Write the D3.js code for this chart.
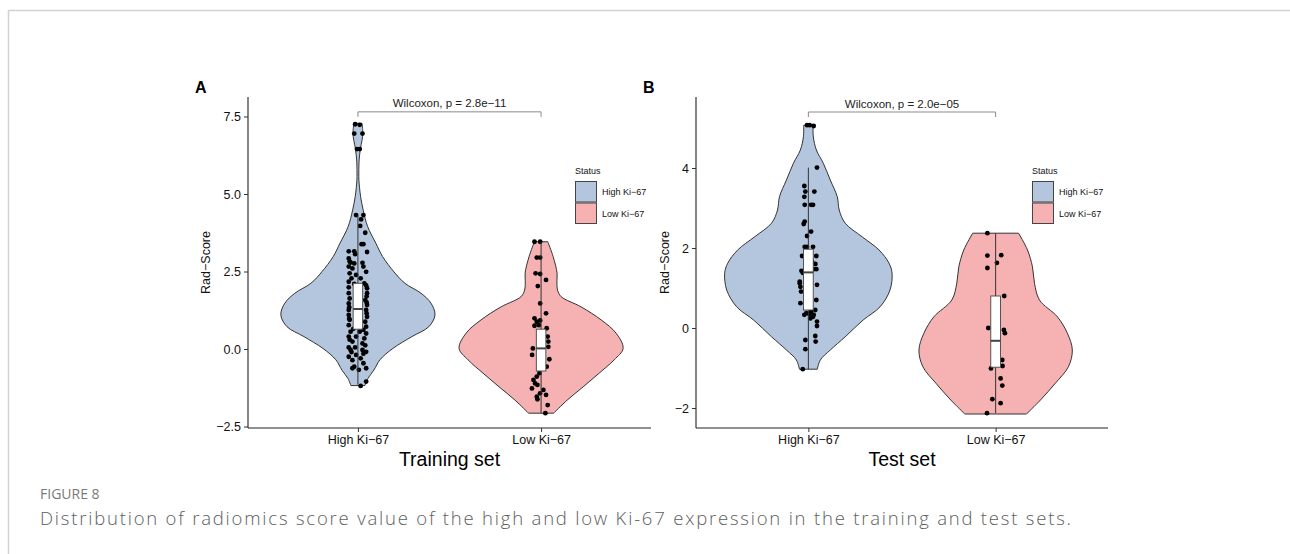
<!DOCTYPE html>
<html>
<head>
<meta charset="utf-8">
<script src="https://cdn.jsdelivr.net/npm/d3@7"></script>
<style>
  body { margin: 0; background: #fff; }
  svg { display: block; }
</style>
</head>
<body>
<svg id="fig" width="1290" height="554"></svg>
<script>
// ---- data -------------------------------------------------------------
const groups = ["High Ki−67", "Low Ki−67"];
const panelTitles = ["Training set", "Test set"];
const panelLetters = ["A", "B"];
const pLabels = ["Wilcoxon, p = 2.8e−11", "Wilcoxon, p = 2.0e−05"];
const trainTicks = [-2.5, 0, 2.5, 5, 7.5];
const testTicks = [-2, 0, 2, 4];

// Rad-Score per patient: [score, jitter in -1..1]
const trainHighPoints = [
  [7.25,-0.3],[7.23,0.2],[6.95,-0.4],[6.95,0.5],[6.45,-0.1],[6.45,0.2],
  [4.32,-0.2],[4.32,0.6],[4.18,0.35],[3.97,0.25],[3.75,0.8],[3.38,0.4],[3.38,0.6],
  [3.15,-1.0],[3.13,1.0],[3.15,-0.4],[3.06,-0.3],[2.92,-1.0],[2.79,-0.8],
  [2.82,-0.9],[2.76,-0.4],[2.78,0.5],[2.66,-1.0],[2.60,-0.6],[2.66,0.6],[2.44,-0.9],
  [2.39,-0.2],[2.49,0.9],[2.28,-0.7],[2.28,0.3],[2.17,-1.0],[2.12,0.7],[2.10,-0.4],
  [1.99,-1.0],[1.96,1.0],[1.80,-1.0],[1.80,1.0],[1.63,-0.9],[1.58,0.8],[1.47,-1.0],
  [1.42,1.0],[1.26,-1.0],[1.26,0.9],[1.10,-1.0],[1.04,1.0],[0.94,-0.9],[0.88,0.8],
  [0.77,-1.0],[0.72,0.9],[1.70,0.95],[1.35,-0.95],[1.15,0.95],[0.98,-0.95],[2.05,0.9],[1.50,0.95],
  [0.56,-0.8],[0.56,0.2],[0.50,0.9],[0.40,-1.0],[0.40,-0.2],[0.34,0.7],[0.24,-0.6],
  [0.18,0.5],[0.05,-1.0],[0.05,-0.3],[-0.03,-0.8],[-0.03,0.5],[-0.09,0.9],[-0.19,-0.2],
  [-0.25,-1.0],[-0.30,0.3],[-0.36,-0.6],[-0.46,0.6],[-0.57,-0.4],[-0.62,-0.6],[-0.67,0.1],
  [-0.62,0.9],[-1.05,0.9],[-1.19,0.3],[0.65,-0.5],[0.62,0.6],[0.12,0.8],[-0.15,0.6],
  [0.30,-0.9],[-0.10,-0.7]
];
const trainLowPoints = [
  [3.46,-0.72],[3.46,-0.1],[2.95,-0.47],[2.95,-0.1],[2.44,-0.6],[2.42,-0.1],[2.23,0.54],
  [2.03,-0.36],[1.47,-0.1],[1.15,0.54],[0.99,-0.72],[0.88,-0.47],[0.92,-0.1],[0.77,-0.25],
  [0.67,0.61],[0.75,-0.72],[0.40,0.72],[0.24,0.79],[0.02,-0.9],[0.07,0.79],[-0.19,-0.98],
  [-0.33,0.9],[-0.57,0.61],[-0.78,-0.18],[-0.89,-0.47],[-1.00,-0.83],[-1.11,-0.65],
  [-1.16,-0.4],[-1.27,-1.0],[-1.32,0.25],[-1.43,-0.11],[-1.54,-0.47],[-1.48,0.54],
  [-1.62,-0.4],[-1.81,0.72],[-2.07,0.47]
];
const testHighPoints = [
  [5.07,-0.14],[5.07,0.14],[5.05,0.57],[4.01,0.92],[3.55,-0.43],[3.41,0.64],[3.41,-0.32],
  [3.28,-0.43],[3.08,0.29],[3.08,0.5],[3.08,-0.39],[2.66,-0.39],[2.60,-0.5],[2.41,0.29],
  [2.30,-0.14],[2.03,-0.39],[2.03,-0.14],[2.03,0.5],[1.80,-0.67],[1.80,0.85],[1.66,0.39],
  [1.60,0.75],[1.47,0.85],[1.47,0.57],[1.43,-0.74],[1.38,-0.6],[1.16,-0.92],[1.12,-0.92],
  [1.08,0.92],[1.03,-0.85],[0.91,-0.78],[0.70,0.85],[0.62,-0.85],[0.45,0.74],[0.37,-0.21],
  [0.33,-0.43],[0.33,0.57],[0.28,0.5],[0.24,0.21],[0.16,0.92],[0.05,0.92],[0.40,0.3],
  [0.35,0.1],[-0.20,0.74],[-0.30,-0.32],[-0.34,0.78],[-0.53,-0.32],[-1.03,-0.6]
];
const testLowPoints = [
  [2.37,-0.88],[1.81,-0.88],[1.82,0.6],[1.63,0.14],[1.50,-0.88],[0.80,0.92],[0.00,-0.78],
  [-0.05,0.88],[-0.13,0.99],[-0.80,0.71],[-0.95,0.74],[-1.01,-0.5],[-1.26,0.53],
  [-1.44,0.71],[-1.78,-0.35],[-1.88,0.53],[-2.13,-0.92]
];

// Kernel density outline per group: [score, relative density]
const trainHighDensity = [
  [7.28,0.05],[7.05,0.058],[6.85,0.057],[6.6,0.04],[6.42,0.028],[6.1,0.015],[5.9,0.012],
  [5.45,0.012],[5.2,0.02],[4.91,0.033],[4.48,0.064],[3.95,0.118],[3.41,0.218],[2.98,0.30],
  [2.49,0.437],[2.12,0.57],[1.8,0.765],[1.48,0.886],[1.1,0.935],[0.72,0.86],[0.4,0.655],
  [0.02,0.425],[-0.35,0.267],[-0.68,0.194],[-0.95,0.121],[-1.18,0.085]
];
const trainLowDensity = [
  [3.46,0.081],[2.98,0.146],[2.45,0.194],[2.2,0.192],[1.9,0.20],[1.69,0.243],[1.36,0.485],
  [0.94,0.728],[0.51,0.91],[0.02,0.995],[-0.35,0.886],[-0.78,0.704],[-1.22,0.51],
  [-1.65,0.316],[-2.07,0.152]
];
const testHighDensity = [
  [5.07,0.056],[4.78,0.059],[4.45,0.095],[4.12,0.177],[3.7,0.26],[3.28,0.343],[2.95,0.366],
  [2.62,0.437],[2.28,0.638],[1.95,0.839],[1.62,0.957],[1.37,0.993],[0.95,0.969],[0.53,0.851],
  [0.2,0.65],[-0.22,0.437],[-0.55,0.26],[-0.8,0.142],[-1.03,0.106]
];
const testLowDensity = [
  [2.37,0.272],[1.95,0.378],[1.53,0.437],[1.12,0.461],[0.7,0.52],[0.28,0.733],[-0.13,0.851],
  [-0.55,0.91],[-0.97,0.863],[-1.38,0.709],[-1.8,0.532],[-2.15,0.366]
];

// Box summaries: [lower whisker, Q1, median, Q3, upper whisker]
const trainBoxes = [[-1.15, 0.64, 1.29, 2.12, 4.32], [-2.07, -0.71, 0.02, 0.64, 3.46]];
const testBoxes = [[-1.03, 0.45, 1.39, 1.97, 4.01], [-2.13, -0.98, -0.32, 0.80, 2.37]];

// ---- drawing ----------------------------------------------------------
const fills = ["#B3C6DD", "#F6B2B2"];
const svg = d3.select("#fig");
const labelFont = "'Liberation Sans', Arial, sans-serif";

// figure frame
svg.append("line").attr("x1", 8.5).attr("x2", 1290).attr("y1", 10.5).attr("y2", 10.5)
  .attr("stroke", "#d2d2d2").attr("stroke-width", 1.5);
svg.append("line").attr("x1", 8.5).attr("x2", 8.5).attr("y1", 10).attr("y2", 554)
  .attr("stroke", "#d2d2d2").attr("stroke-width", 1.5);

function drawPanel(cfg) {
  const g = svg.append("g");
  const x = d3.scalePoint().domain(groups).range([cfg.left, cfg.right]).padding(0.6);
  const y = d3.scaleLinear().domain(cfg.yDomain).range([cfg.bottom, cfg.top]);
  const step = x.step();
  const w = d3.scaleLinear().domain([0, 1]).range([0, 0.45 * step]);
  const jw = 0.05 * step;
  const bw = 0.026 * step;

  // violins
  groups.forEach((grp, i) => {
    const cx = x(grp);
    const area = d3.area()
      .curve(d3.curveCatmullRom.alpha(0.5))
      .y(d => y(d[0]))
      .x0(d => cx - w(d[1]))
      .x1(d => cx + w(d[1]));
    g.append("path").datum(cfg.densities[i]).attr("d", area)
      .attr("fill", fills[i]).attr("stroke", "#333").attr("stroke-width", 1);
  });

  // jittered points
  groups.forEach((grp, i) => {
    g.append("g").selectAll("circle").data(cfg.points[i]).join("circle")
      .attr("cx", d => x(grp) + d[1] * jw)
      .attr("cy", d => y(d[0]))
      .attr("r", 2.4)
      .attr("fill", "#000");
  });

  // boxplots
  groups.forEach((grp, i) => {
    const [lo, q1, med, q3, hi] = cfg.boxes[i];
    const cx = x(grp);
    const bg = g.append("g");
    bg.append("line").attr("x1", cx).attr("x2", cx).attr("y1", y(hi)).attr("y2", y(q3))
      .attr("stroke", "#333").attr("stroke-width", 1);
    bg.append("line").attr("x1", cx).attr("x2", cx).attr("y1", y(q1)).attr("y2", y(lo))
      .attr("stroke", "#333").attr("stroke-width", 1);
    bg.append("rect").attr("x", cx - bw).attr("width", 2 * bw)
      .attr("y", y(q3)).attr("height", y(q1) - y(q3))
      .attr("fill", "#fff").attr("stroke", "#444").attr("stroke-width", 0.9);
    bg.append("line").attr("x1", cx - bw).attr("x2", cx + bw).attr("y1", y(med)).attr("y2", y(med))
      .attr("stroke", "#444").attr("stroke-width", 2);
  });

  // axes
  const yAxis = g.append("g").attr("transform", `translate(${cfg.left},0)`)
    .call(d3.axisLeft(y).tickValues(cfg.ticks).tickFormat(cfg.tickFormat).tickSize(4).tickPadding(3));
  yAxis.select(".domain").attr("d", `M0,${cfg.top}V${cfg.bottom}`).attr("stroke", "#222").attr("stroke-width", 1.1);
  yAxis.selectAll(".tick line").attr("stroke", "#333");
  yAxis.selectAll(".tick text").attr("font-family", labelFont).attr("font-size", 12.5).attr("fill", "#111");

  const xAxis = g.append("g").attr("transform", `translate(0,${cfg.bottom})`)
    .call(d3.axisBottom(x).tickSize(4).tickPadding(3));
  xAxis.select(".domain").attr("d", `M${cfg.left},0H${cfg.right}`).attr("stroke", "#222").attr("stroke-width", 1.1);
  xAxis.selectAll(".tick line").attr("stroke", "#333");
  xAxis.selectAll(".tick text").attr("font-family", labelFont).attr("font-size", 12.5).attr("fill", "#111");

  // axis titles (y title sits just left of the widest tick label)
  const yb = yAxis.node().getBBox();
  const yTitleX = cfg.left + yb.x - 6;
  g.append("text").attr("transform", `translate(${yTitleX},${(cfg.top + cfg.bottom) / 2}) rotate(-90)`)
    .attr("text-anchor", "middle").attr("font-family", labelFont).attr("font-size", 12.5)
    .attr("fill", "#111").text("Rad−Score");
  g.append("text").attr("x", (cfg.left + cfg.right) / 2).attr("y", 466)
    .attr("text-anchor", "middle").attr("font-family", labelFont).attr("font-size", 19.5)
    .attr("fill", "#000").text(cfg.title);

  // panel letter
  g.append("text").attr("x", cfg.left - 53).attr("y", 93)
    .attr("font-family", labelFont).attr("font-weight", "bold").attr("font-size", 16)
    .attr("fill", "#000").text(cfg.letter);

  // significance bracket
  const by = y(cfg.bracketY);
  g.append("path")
    .attr("d", `M${x(groups[0])},${by + 5}V${by}H${x(groups[1])}V${by + 5}`)
    .attr("fill", "none").attr("stroke", "#8a8a8a").attr("stroke-width", 1);
  g.append("text").attr("x", (x(groups[0]) + x(groups[1])) / 2).attr("y", by - 4.5)
    .attr("text-anchor", "middle").attr("font-family", labelFont).attr("font-size", 11.5)
    .attr("fill", "#222").text(cfg.pLabel);

  // legend
  const lg = g.append("g").attr("transform", `translate(${cfg.right - 76},0)`);
  lg.append("text").attr("x", 0).attr("y", 174).attr("font-family", labelFont)
    .attr("font-size", 9).attr("fill", "#111").text("Status");
  groups.forEach((grp, i) => {
    lg.append("rect").attr("x", 0.5).attr("y", 181.5 + i * 21.5).attr("width", 21).attr("height", 20.5)
      .attr("fill", fills[i]).attr("stroke", "#444").attr("stroke-width", 1);
    lg.append("text").attr("x", 27).attr("y", 195 + i * 21.5).attr("font-family", labelFont)
      .attr("font-size", 9).attr("fill", "#111").text(grp);
  });
}

drawPanel({
  left: 248, right: 651, top: 97, bottom: 428,
  yDomain: [-2.548, 8.129], ticks: trainTicks, tickFormat: d3.format(".1f"),
  densities: [trainHighDensity, trainLowDensity],
  points: [trainHighPoints, trainLowPoints],
  boxes: trainBoxes, title: panelTitles[0], letter: panelLetters[0],
  pLabel: pLabels[0], bracketY: 7.65
});
drawPanel({
  left: 696, right: 1108, top: 97, bottom: 428,
  yDomain: [-2.5, 5.775], ticks: testTicks, tickFormat: d3.format("d"),
  densities: [testHighDensity, testLowDensity],
  points: [testHighPoints, testLowPoints],
  boxes: testBoxes, title: panelTitles[1], letter: panelLetters[1],
  pLabel: pLabels[1], bracketY: 5.4
});

// caption
svg.append("text").attr("x", 40).attr("y", 499)
  .attr("font-family", "'Open Sans', sans-serif").attr("font-size", 14)
  .attr("fill", "#7a7a7a").text("FIGURE 8");
svg.append("text").attr("x", 40).attr("y", 525)
  .attr("font-family", "'Open Sans', sans-serif").attr("font-size", 18.5)
  .attr("font-weight", 300)
  .attr("textLength", 1031).attr("lengthAdjust", "spacing")
  .attr("fill", "#5e5e5e")
  .text("Distribution of radiomics score value of the high and low Ki-67 expression in the training and test sets.");
</script>
</body>
</html>
